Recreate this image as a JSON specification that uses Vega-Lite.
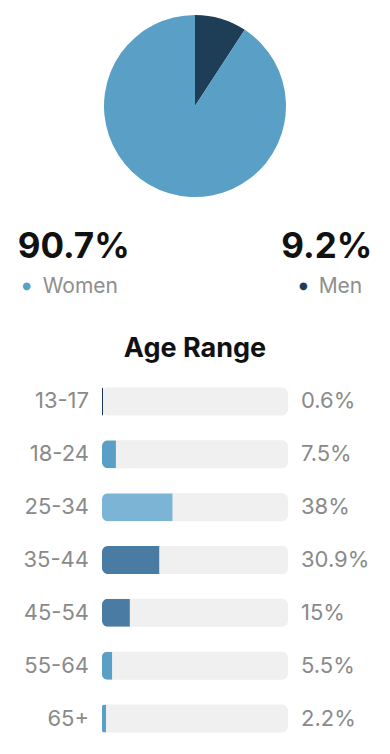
{
  "$schema": "https://vega.github.io/schema/vega-lite/v6.json",
  "padding": 0,
  "background": "white",
  "spacing": 0,
  "center": true,
  "bounds": "flush",
  "resolve": {"scale": {"color": "independent", "x": "independent", "y": "independent"}},
  "config": {"view": {"stroke": null}, "font": "Inter"},
  "datasets": {
    "gender": [
      {"gender": "Men", "share": 0.092},
      {"gender": "Women", "share": 0.907}
    ],
    "age": [
      {"age": "13-17", "share": 0.006},
      {"age": "18-24", "share": 0.075},
      {"age": "25-34", "share": 0.38},
      {"age": "35-44", "share": 0.309},
      {"age": "45-54", "share": 0.15},
      {"age": "55-64", "share": 0.055},
      {"age": "65+", "share": 0.022}
    ]
  },
  "vconcat": [
    {
      "width": 390,
      "height": 212,
      "data": {"name": "gender"},
      "mark": {"type": "arc", "outerRadius": 91},
      "encoding": {
        "theta": {"field": "share", "type": "quantitative", "stack": true},
        "order": {"field": "share", "type": "quantitative", "sort": "ascending"},
        "color": {"field": "gender", "type": "nominal", "legend": null,
          "scale": {"domain": ["Women", "Men"], "range": ["#5aa0c6", "#1e3d56"]}}
      }
    },
    {
      "width": 390,
      "height": 98,
      "data": {"name": "gender"},
      "encoding": {
        "x": {"field": "gender", "type": "nominal", "axis": null,
          "scale": {"type": "point", "domain": ["Women", "Men"], "padding": 0.05}}
      },
      "layer": [
        {
          "transform": [{"filter": "datum.gender === 'Women'"}],
          "mark": {"type": "text", "align": "left", "baseline": "alphabetic", "dy": -3, "fontSize": 35, "fontWeight": "bold", "color": "#111111"},
          "encoding": {"text": {"field": "share", "type": "quantitative", "format": ".3~%"}}
        },
        {
          "transform": [{"filter": "datum.gender === 'Men'"}],
          "mark": {"type": "text", "align": "right", "baseline": "alphabetic", "dy": -3, "fontSize": 35, "fontWeight": "bold", "color": "#111111"},
          "encoding": {"text": {"field": "share", "type": "quantitative", "format": ".3~%"}}
        },
        {
          "transform": [{"filter": "datum.gender === 'Women'"}],
          "mark": {"type": "text", "align": "left", "baseline": "alphabetic", "dx": 25, "dy": 32, "fontSize": 21, "color": "#8e8e8e"},
          "encoding": {"text": {"field": "gender", "type": "nominal"}}
        },
        {
          "transform": [{"filter": "datum.gender === 'Men'"}],
          "mark": {"type": "text", "align": "right", "baseline": "alphabetic", "dx": -10, "dy": 32, "fontSize": 21, "color": "#8e8e8e"},
          "encoding": {"text": {"field": "gender", "type": "nominal"}}
        },
        {
          "transform": [{"filter": "datum.gender === 'Women'"}],
          "mark": {"type": "text", "text": "●", "font": "DejaVu Sans", "align": "center", "baseline": "middle", "dx": 9, "dy": 25, "fontSize": 10},
          "encoding": {"color": {"field": "gender", "type": "nominal", "legend": null,
            "scale": {"domain": ["Women", "Men"], "range": ["#5aa0c6", "#1e3d56"]}}}
        },
        {
          "transform": [{"filter": "datum.gender === 'Men'"}],
          "mark": {"type": "text", "text": "●", "font": "DejaVu Sans", "align": "center", "baseline": "middle", "dx": -69, "dy": 25, "fontSize": 10},
          "encoding": {"color": {"field": "gender", "type": "nominal", "legend": null,
            "scale": {"domain": ["Women", "Men"], "range": ["#5aa0c6", "#1e3d56"]}}}
        }
      ]
    },
    {
      "width": 390,
      "height": 65,
      "data": {"values": [{"title": "Age Range"}]},
      "mark": {"type": "text", "align": "center", "baseline": "alphabetic", "dy": 14, "fontSize": 27, "fontWeight": "bold", "color": "#111111"},
      "encoding": {"text": {"field": "title", "type": "nominal"}}
    },
    {
      "width": 186,
      "height": 370,
      "data": {"name": "age"},
      "encoding": {
        "y": {"field": "age", "type": "nominal", "axis": null, "sort": null,
          "scale": {"type": "band", "paddingInner": 0.47, "paddingOuter": 0.235}}
      },
      "layer": [
        {
          "mark": {"type": "bar", "cornerRadius": 6, "color": "#f0f0f0"},
          "encoding": {
            "x": {"datum": 1, "type": "quantitative", "axis": null, "scale": {"domain": [0, 1], "nice": false}}
          }
        },
        {
          "mark": {"type": "bar", "cornerRadiusTopLeft": 6, "cornerRadiusBottomLeft": 6},
          "encoding": {
            "x": {"field": "share", "type": "quantitative", "axis": null, "scale": {"domain": [0, 1], "nice": false}},
            "color": {"field": "age", "type": "nominal", "legend": null,
              "scale": {"domain": ["13-17", "18-24", "25-34", "35-44", "45-54", "55-64", "65+"],
                "range": ["#1d3a52", "#5aa0c6", "#7bb4d4", "#4a7ba3", "#4a7ba3", "#5aa0c6", "#5aa0c6"]}}
          }
        },
        {
          "mark": {"type": "text", "align": "right", "baseline": "middle", "dx": -13, "fontSize": 22, "color": "#8a8a8a"},
          "encoding": {
            "x": {"datum": 0, "type": "quantitative"},
            "text": {"field": "age", "type": "nominal"}
          }
        },
        {
          "mark": {"type": "text", "align": "left", "baseline": "middle", "dx": 13, "fontSize": 22, "color": "#8a8a8a"},
          "encoding": {
            "x": {"datum": 1, "type": "quantitative"},
            "text": {"field": "share", "type": "quantitative", "format": ".3~%"}
          }
        }
      ]
    }
  ]
}
